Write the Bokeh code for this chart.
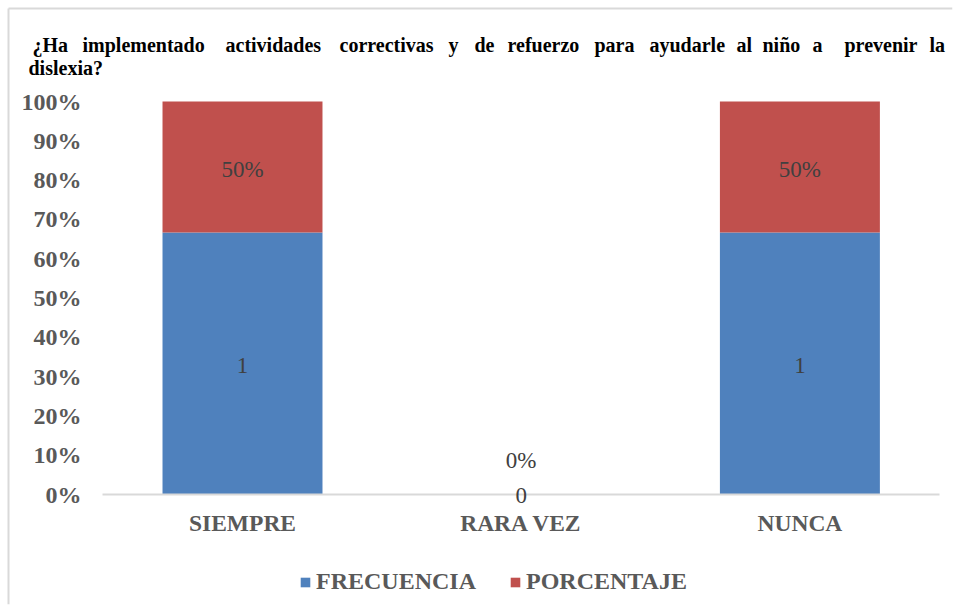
from bokeh.plotting import figure
from bokeh.models import (ColumnDataSource, LabelSet, Label, Legend, LegendItem,
                          FixedTicker, NumeralTickFormatter, Range1d)
from bokeh.core.properties import value
from bokeh.embed import file_html
from bokeh.resources import INLINE

# ---- data ----
categories = ["SIEMPRE", "RARA VEZ", "NUNCA"]
frecuencia = [1, 0, 1]
porcentaje = [0.5, 0.0, 0.5]
frecuencia_labels = ["1", "0", "1"]
porcentaje_labels = ["50%", "0%", "50%"]
series_names = ["FRECUENCIA", "PORCENTAJE"]
colors = ["#4F81BD", "#C0504D"]
y_ticks = [0.0, 0.1, 0.2, 0.3, 0.4, 0.5, 0.6, 0.7, 0.8, 0.9, 1.0]
title_line1 = "¿Ha implementado actividades correctivas y de refuerzo para ayudarle al niño a prevenir la"
title_line2 = "dislexia?"

FONT = "Liberation Serif"

# ---- page layout (pixels on the page) ----
ORIGIN = 1                      # where the figure lands on the page
FR_L, FR_R, FR_T, FR_B = 6, 953, 6, 605   # frame edges on the page
X0_PX, X_SCALE = 243, 278.7     # page x of first category, px per category
Y0_PX, Y_SCALE = 495, 393       # page y of 0%, px per 100%
FW, FH = 954, 607

def px2x(px):
    return (px - X0_PX) / X_SCALE

def py2y(py):
    return (Y0_PX - py) / Y_SCALE

# ---- 100% stacked shares ----
xs = list(range(len(categories)))
totals = [f + q for f, q in zip(frecuencia, porcentaje)]
f_share = [f / t if t else 0.0 for f, t in zip(frecuencia, totals)]
p_share = [q / t if t else 0.0 for q, t in zip(porcentaje, totals)]
f_mid = [s / 2 for s in f_share]
p_mid = [a + b / 2 for a, b in zip(f_share, p_share)]
p_off = [34 if t == 0 else -2 for t in totals]
f_off = [-1 if t == 0 else -2 for t in totals]

src = ColumnDataSource(dict(x=xs, f=f_share, p=p_share, fy=f_mid, py=p_mid,
                            flab=frecuencia_labels, plab=porcentaje_labels,
                            poff=p_off, foff=f_off))

p = figure(width=FW, height=FH,
           x_range=Range1d(px2x(FR_L), px2x(FR_R)), y_range=Range1d(py2y(FR_B), py2y(FR_T)),
           output_backend="svg", toolbar_location=None,
           min_border_left=FR_L - ORIGIN, min_border_right=ORIGIN + FW - FR_R,
           min_border_top=FR_T - ORIGIN, min_border_bottom=ORIGIN + FH - FR_B)
p.outline_line_color = None
p.grid.visible = False

# chart-area border (left and top edges)
p.segment(x0=[px2x(9), px2x(9)], x1=[px2x(9), px2x(FR_R)],
          y0=[py2y(9), py2y(9)], y1=[py2y(FR_B), py2y(9)],
          line_color="#d9d9d9", line_width=2)

rends = p.vbar_stack(["f", "p"], x="x", width=0.574, color=colors, line_color=None, source=src)
# category axis baseline across the plot area
p.segment(x0=[px2x(103)], x1=[px2x(940)], y0=[0], y1=[0], line_color="#d9d9d9", line_width=2)

# axes (labels pulled in with negative standoff so the frame can hold the title)
p.yaxis.ticker = FixedTicker(ticks=y_ticks)
p.yaxis.formatter = NumeralTickFormatter(format="0%")
p.yaxis.axis_line_color = None
p.yaxis.major_tick_line_color = None
p.yaxis.major_tick_out = 0
p.yaxis.major_tick_in = 0
p.yaxis.minor_tick_line_color = None
p.yaxis.major_label_standoff = -(82 - FR_L)
p.yaxis.major_label_text_font = FONT
p.yaxis.major_label_text_font_style = "bold"
p.yaxis.major_label_text_font_size = "24px"
p.yaxis.major_label_text_color = "#595959"

p.xaxis.ticker = FixedTicker(ticks=xs)
p.xaxis.major_label_overrides = {i: c for i, c in zip(xs, categories)}
p.xaxis.axis_line_color = None
p.xaxis.major_tick_line_color = None
p.xaxis.major_tick_out = 0
p.xaxis.major_tick_in = 0
p.xaxis.minor_tick_line_color = None
p.xaxis.major_label_standoff = -(FR_B - 510)
p.xaxis.major_label_text_font = FONT
p.xaxis.major_label_text_font_style = "bold"
p.xaxis.major_label_text_font_size = "23.5px"
p.xaxis.major_label_text_color = "#595959"

# data labels
for ycol, tcol, off in (("fy", "flab", "foff"), ("py", "plab", "poff")):
    p.add_layout(LabelSet(x="x", y=ycol, text=tcol, source=src, text_align="center",
                          text_baseline="middle", text_font=value(FONT), text_font_size="23px",
                          text_color="#404040", y_offset=off))

# legend
legend = Legend(items=[LegendItem(label=n, renderers=[r]) for n, r in zip(series_names, rends)],
                orientation="horizontal", location=(300 - FR_L, FR_B - 596),
                label_text_font=FONT, label_text_font_style="bold",
                label_text_font_size="24px", label_text_color="#595959",
                glyph_width=12, glyph_height=12, label_standoff=5, spacing=33,
                padding=0, margin=0, border_line_color=None, background_fill_alpha=0)
p.add_layout(legend, "center")

# title (justified first line, word by word)
words1 = title_line1.split(" ")
word_x1 = [33, 83, 226, 340, 449, 475, 508, 595, 650, 737, 763, 813, 845, 930]
for w, wx in zip(words1, word_x1):
    p.add_layout(Label(x=px2x(wx), y=py2y(45), text=w,
                       text_font=FONT, text_font_style="bold", text_font_size="20px",
                       text_color="#000000", text_baseline="middle"))
p.add_layout(Label(x=px2x(29), y=py2y(68), text=title_line2,
                   text_font=FONT, text_font_style="bold", text_font_size="20px",
                   text_color="#000000", text_baseline="middle"))

open("out.html", "w").write(file_html(p, INLINE))
